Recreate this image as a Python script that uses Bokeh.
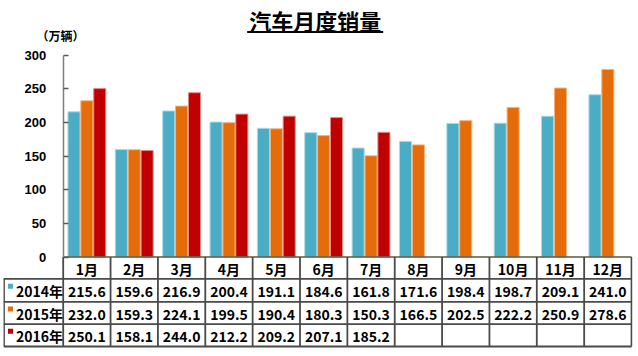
from bokeh.plotting import figure
from bokeh.models import Range1d, LinearAxis, FixedTicker, Label
from bokeh.core.properties import value
from bokeh.embed import file_html
from bokeh.resources import INLINE

# ---------------- data ----------------
months = ["1月", "2月", "3月", "4月", "5月", "6月", "7月", "8月", "9月", "10月", "11月", "12月"]
series_names = ["2014年", "2015年", "2016年"]
sales_2014 = [215.6, 159.6, 216.9, 200.4, 191.1, 184.6, 161.8, 171.6, 198.4, 198.7, 209.1, 241.0]
sales_2015 = [232.0, 159.3, 224.1, 199.5, 190.4, 180.3, 150.3, 166.5, 202.5, 222.2, 250.9, 278.6]
sales_2016 = [250.1, 158.1, 244.0, 212.2, 209.2, 207.1, 185.2]
y_ticks = [0, 50, 100, 150, 200, 250, 300]
title_text = "汽车月度销量"
unit_text = "（万辆）"

# ---------------- style / layout ----------------
colors = ["#4BACC6", "#E46C0A", "#C00000"]
edge_colors = ["#a9d8e6", "#f4b27c", "#e58a8a"]
CJK = "Noto Sans CJK SC"

FIG_LEFT = 3          # page x of figure left
AXIS_X = 62.7         # page x of the value axis
COL_W = 47.36         # px per month column
ZERO_Y = 256.5        # page y of value 0
PX_PER_UNIT = 202.0 / 300.0
FRAME_RIGHT = 632
FRAME_TOP = 0
FRAME_BOTTOM = 350


def dx(px):
    return (px - AXIS_X) / COL_W


def dy(py):
    return (ZERO_Y - py) / PX_PER_UNIT


p = figure(width=634, height=FRAME_BOTTOM - FRAME_TOP,
           x_range=Range1d(dx(FIG_LEFT), dx(FRAME_RIGHT)),
           y_range=Range1d(dy(FRAME_BOTTOM), dy(FRAME_TOP)),
           output_backend="svg", toolbar_location=None,
           x_axis_location=None, y_axis_location=None,
           min_border=0, min_border_right=5, min_border_left=0,
           min_border_top=0, min_border_bottom=0,
           outline_line_color=None, margin=(FRAME_TOP, 0, 0, FIG_LEFT))
p.grid.visible = False
p.background_fill_color = "white"
p.border_fill_color = "white"

# ---------------- bars ----------------
offsets = [-0.272, 0.0, 0.272]
all_series = [sales_2014, sales_2015, sales_2016]
for k, vals in enumerate(all_series):
    xs = [i + 0.5 + offsets[k] for i in range(len(vals))]
    p.vbar(x=xs, top=vals, bottom=0, width=0.255,
           fill_color=colors[k], line_color=edge_colors[k], line_width=1)

# ---------------- value axis ----------------
ax = LinearAxis(fixed_location=0, bounds=(0, 300),
                ticker=FixedTicker(ticks=y_ticks),
                major_tick_in=5, major_tick_out=0,
                minor_tick_line_color=None,
                axis_line_color="#7f7f7f", axis_line_width=1.5,
                major_tick_line_color="#595959", major_tick_line_width=1.5,
                major_label_text_font="Liberation Sans",
                major_label_text_font_style="bold",
                major_label_text_font_size="13px",
                major_label_text_color="black",
                major_label_standoff=17)
p.add_layout(ax, "left")

# ---------------- data table ----------------
row_lines = [ZERO_Y, 278.3, 301.3, 323.7, 346.0]
line_col = "#4a4a4a"
p.segment(x0=[dx(AXIS_X)], x1=[dx(AXIS_X + 12 * COL_W)],
          y0=[dy(row_lines[0])], y1=[dy(row_lines[0])],
          line_color="#5a5a40", line_width=1.5)
p.segment(x0=[dx(FIG_LEFT)] * 4, x1=[dx(AXIS_X + 12 * COL_W)] * 4,
          y0=[dy(r) for r in row_lines[1:]], y1=[dy(r) for r in row_lines[1:]],
          line_color=line_col, line_width=1.8)
vx = [i for i in range(13)]
p.segment(x0=vx, x1=vx, y0=[dy(row_lines[0])] * 13, y1=[dy(row_lines[-1])] * 13,
          line_color=line_col, line_width=1.8)
p.segment(x0=[dx(FIG_LEFT + 0.5)], x1=[dx(FIG_LEFT + 0.5)],
          y0=[dy(row_lines[1])], y1=[dy(row_lines[-1])],
          line_color=line_col, line_width=1.8)

centers = [(row_lines[j] + row_lines[j + 1]) / 2 + 1 for j in range(4)]
p.text(x=[i + 0.5 for i in range(12)], y=[dy(centers[0])] * 12, text=months,
       text_align="center", text_baseline="middle",
       text_font=value(CJK), text_font_style="bold", text_font_size="14px",
       text_color="black")
for k, vals in enumerate(all_series):
    p.text(x=[i + 0.5 for i in range(len(vals))], y=[dy(centers[k + 1])] * len(vals),
           text=["%.1f" % v for v in vals],
           text_align="center", text_baseline="middle",
           text_font=value(CJK), text_font_style="bold", text_font_size="14px",
           text_color="black")
p.scatter(x=[dx(10)] * 3, y=[dy(c - 5) for c in centers[1:]], marker="square",
          size=5, fill_color=colors, line_color=None)
p.text(x=[dx(15.5)] * 3, y=[dy(c) for c in centers[1:]], text=series_names,
       text_align="left", text_baseline="middle",
       text_font=value(CJK), text_font_style="bold", text_font_size="14px",
       text_color="black")

# ---------------- title & unit ----------------
p.add_layout(Label(x=dx(314.7), y=dy(19.5), text=title_text,
                   text_align="center", text_baseline="middle",
                   text_font=CJK, text_font_style="bold", text_font_size="22px",
                   text_color="black"))
p.segment(x0=[dx(246.7)], x1=[dx(382.7)], y0=[dy(31.5)], y1=[dy(31.5)],
          line_color="black", line_width=2)
p.add_layout(Label(x=dx(60), y=dy(35), text=unit_text,
                   text_align="center", text_baseline="middle",
                   text_font=CJK, text_font_style="bold", text_font_size="12px",
                   text_color="black"))

open("out.html", "w").write(file_html(p, INLINE))
